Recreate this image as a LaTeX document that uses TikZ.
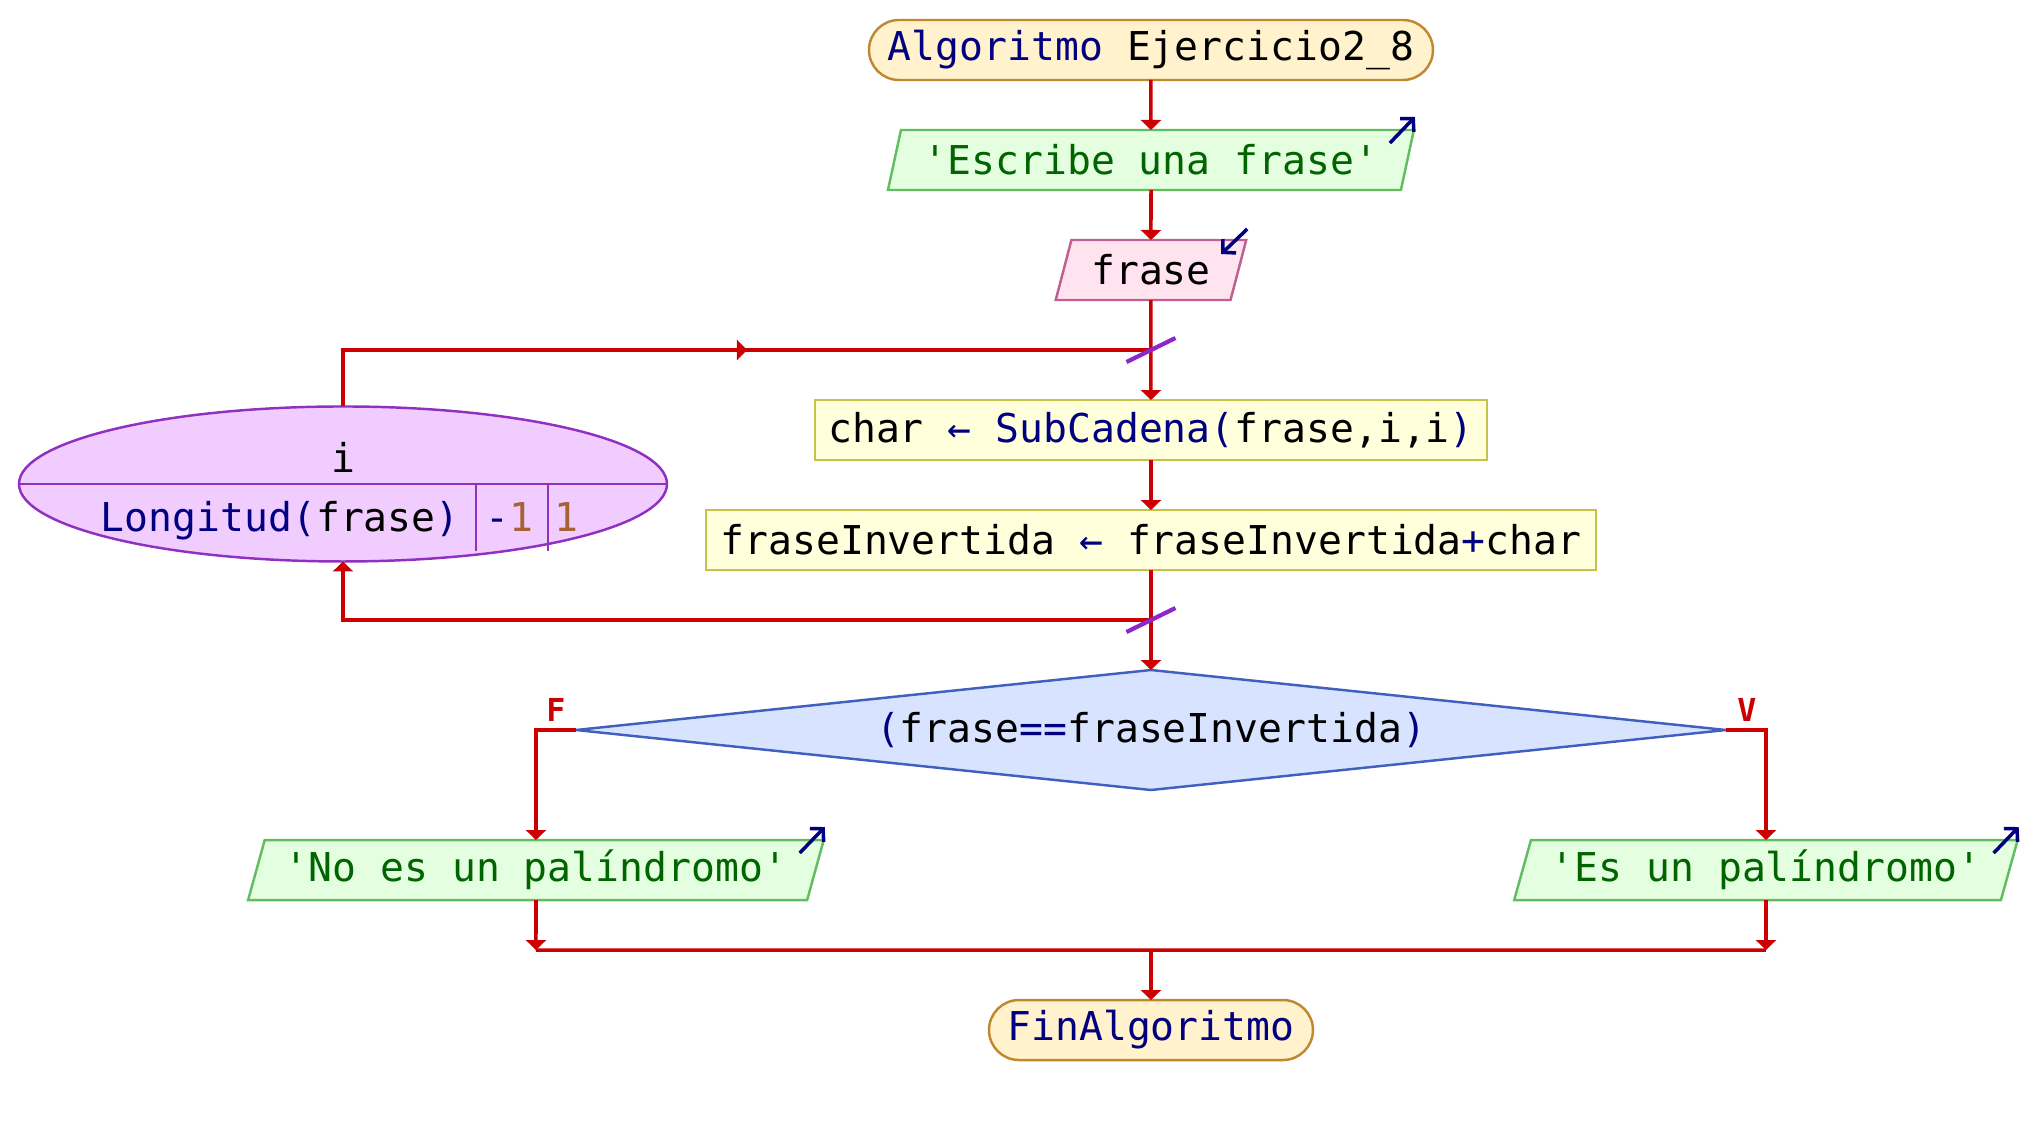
\documentclass[tikz,border=0pt]{standalone}
\usepackage{fontspec}
\setmainfont{DejaVu Sans Mono}
\usepackage{xcolor}
\usetikzlibrary{shapes.geometric,arrows.meta,positioning,calc}

\definecolor{rojo}{RGB}{204,0,0}
\definecolor{azul}{RGB}{0,0,128}
\definecolor{verde}{RGB}{0,100,0}
\definecolor{cafe}{RGB}{166,98,50}
\definecolor{lila}{RGB}{140,40,200}
\definecolor{termfill}{RGB}{255,242,204}
\definecolor{termline}{RGB}{192,136,48}
\definecolor{salfill}{RGB}{228,255,224}
\definecolor{salline}{RGB}{96,190,96}
\definecolor{entfill}{RGB}{255,228,240}
\definecolor{entline}{RGB}{192,96,144}
\definecolor{procfill}{RGB}{255,255,220}
\definecolor{procline}{RGB}{196,196,72}
\definecolor{decfill}{RGB}{216,228,255}
\definecolor{decline}{RGB}{64,96,192}
\definecolor{ciclofill}{RGB}{240,204,255}
\definecolor{cicloline}{RGB}{144,48,192}

\begin{document}
\begin{tikzpicture}[
    node distance=0.5cm,
    every node/.style={font=\fontsize{11.3pt}{13pt}\selectfont, outer sep=0pt},
    terminal/.style={rectangle, rounded corners=0.3cm, draw=termline, fill=termfill, line width=0.7pt, minimum height=0.6cm, inner sep=0pt, text=azul},
    salida/.style={trapezium, trapezium left angle=69, trapezium right angle=111, trapezium stretches=true, draw=salline, fill=salfill, line width=0.7pt, minimum height=0.6cm, inner sep=0pt, text=verde},
    entrada/.style={salida, draw=entline, fill=entfill, text=black},
    proceso/.style={rectangle, draw=procline, fill=procfill, line width=0.7pt, minimum height=0.6cm, inner sep=0pt},
    decision/.style={diamond, aspect=9.6, draw=decline, fill=decfill, line width=0.7pt, minimum width=11.5cm, minimum height=1.2cm, inner sep=0pt},
    ciclo/.style={ellipse, draw=cicloline, fill=ciclofill, line width=0.7pt, minimum width=6.48cm, minimum height=1.55cm, inner sep=0pt},
    celda/.style={inner sep=0pt, anchor=base west},
    flecha/.style={-{Triangle[width=0.2cm,length=0.1cm]}, rojo, line width=1pt},
    linea/.style={rojo, line width=1pt},
    io/.style={-{Straight Barb[length=0.09cm,width=0.19cm]}, azul, line width=1pt},
    marca/.style={lila, line width=1.2pt},
    etiqueta/.style={text=rojo, font=\fontsize{9pt}{10pt}\selectfont\bfseries}
]
\useasboundingbox (-11.51,0.5) rectangle (8.77,-10.8);

\node[terminal, minimum width=5.64cm] (inicio) {Algoritmo \textcolor{black}{Ejercicio2\_8}};
\node[salida, minimum width=5.27cm, below=of inicio] (escribe1) {\textquotesingle Escribe una frase\textquotesingle};
\node[entrada, minimum width=1.91cm, below=of escribe1] (leer) {frase};
\node[proceso, minimum width=6.72cm, below=1cm of leer] (asig1) {char \textcolor{azul}{← SubCadena(}frase,i,i\textcolor{azul}{)}};
\node[proceso, minimum width=8.9cm, below=of asig1] (asig2) {fraseInvertida \textcolor{azul}{←} fraseInvertida\textcolor{azul}{+}char};
\node[decision, below=1cm of asig2] (si) {\textcolor{azul}{(}frase\textcolor{azul}{==}fraseInvertida\textcolor{azul}{)}};
\coordinate[left=0.4cm of si.west] (ramaf);
\coordinate[right=0.4cm of si.east] (ramav);
\node[salida, minimum width=5.76cm, below=1.1cm of ramaf] (escribe2) {\textquotesingle No es un palíndromo\textquotesingle};
\node[salida, minimum width=5.04cm, below=1.1cm of ramav] (escribe3) {\textquotesingle Es un palíndromo\textquotesingle};
\coordinate[below=of escribe2] (unef);
\coordinate[below=of escribe3] (unev);
\coordinate (une) at (unef -| si);
\node[terminal, minimum width=3.24cm, below=of une] (fin) {FinAlgoritmo};

% ciclo para
\node[ciclo] (para) at (-8.08,-4.34) {};
\draw[cicloline, line width=0.7pt] (para.west) -- (para.east);
\node[inner sep=0pt, anchor=base] (var) at ([yshift=0.11cm]para.center) {i};
\node[celda, text=azul] (hasta) at ([shift={(-2.42,-0.48)}]para.center) {Longitud(\textcolor{black}{frase})};
\node[celda, text=azul] (paso) at ([shift={(1.43,-0.48)}]para.center) {-\textcolor{cafe}{1}};
\node[celda, text=cafe] (desde) at ([shift={(2.12,-0.48)}]para.center) {1};
\draw[cicloline, line width=0.7pt] ([xshift=1.33cm]para.center) -- ++(0,-0.67);
\draw[cicloline, line width=0.7pt] ([xshift=2.05cm]para.center) -- ++(0,-0.67);

\coordinate (j1) at ($(leer.south)!0.5!(asig1.north)$);
\coordinate (j2) at ($(asig2.south)!0.5!(si.north)$);

\draw[flecha] (inicio) -- (escribe1);
\draw[flecha] (escribe1) -- (leer);
\draw[flecha] (leer) -- (asig1);
\draw[flecha] (asig1) -- (asig2);
\draw[flecha] (asig2) -- (si);
\draw[linea] (para.north) |- (j1);
\draw[flecha] (para.north |- j1) -- ($(para.north |- j1)!0.5!(j1)$);
\draw[flecha] (j2) -| (para.south);
\draw[marca] ([shift={(-0.245,-0.12)}]j1) -- ([shift={(0.245,0.12)}]j1);
\draw[marca] ([shift={(-0.245,-0.12)}]j2) -- ([shift={(0.245,0.12)}]j2);

\draw[flecha] (si.west) -| (escribe2);
\draw[flecha] (si.east) -| (escribe3);
\node[etiqueta] (lf) at ([shift={(0.2,0.2)}]ramaf) {F};
\node[etiqueta] (lv) at ([shift={(-0.19,0.2)}]ramav) {V};
\draw[flecha] (escribe2) -- (unef);
\draw[flecha] (escribe3) -- (unev);
\draw[linea] (unef) -- (unev);
\draw[flecha] (une) -- (fin);

% marcas de entrada/salida
\draw[io] ([shift={(-0.24,-0.13)}]escribe1.top right corner) -- ++(0.25,0.26);
\draw[io] ([shift={(-0.24,-0.13)}]escribe2.top right corner) -- ++(0.25,0.26);
\draw[io] ([shift={(-0.24,-0.13)}]escribe3.top right corner) -- ++(0.25,0.26);
\draw[io] ([shift={(0.01,0.11)}]leer.top right corner) -- ++(-0.26,-0.25);

\end{tikzpicture}
\end{document}
